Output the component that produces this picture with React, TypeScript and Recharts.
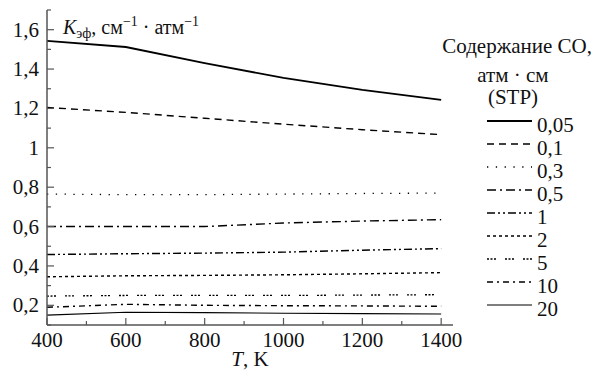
import React from "react";
import { LineChart, Line, XAxis, YAxis } from "recharts";

const temps = [400, 600, 800, 1000, 1200, 1400];

const k005 = [1.543, 1.512, 1.43, 1.355, 1.294, 1.243];
const k01 = [1.205, 1.18, 1.15, 1.12, 1.092, 1.067];
const k03 = [0.765, 0.762, 0.762, 0.765, 0.768, 0.77];
const k05 = [0.6, 0.6, 0.6, 0.618, 0.628, 0.635];
const k1 = [0.458, 0.462, 0.465, 0.47, 0.48, 0.488];
const k2 = [0.345, 0.35, 0.352, 0.355, 0.36, 0.366];
const k5 = [0.247, 0.25, 0.25, 0.25, 0.252, 0.254];
const k10 = [0.19, 0.205, 0.2, 0.198, 0.197, 0.195];
const k20 = [0.15, 0.165, 0.163, 0.16, 0.158, 0.156];

const seriesLabels = ["0,05", "0,1", "0,3", "0,5", "1", "2", "5", "10", "20"];

const xTicks = [400, 500, 600, 700, 800, 900, 1000, 1100, 1200, 1300, 1400];
const yTicks = [0.1, 0.2, 0.3, 0.4, 0.5, 0.6, 0.7, 0.8, 0.9, 1.0, 1.1, 1.2, 1.3, 1.4, 1.5, 1.6, 1.7];

const TXT = { fontFamily: '"Liberation Serif"' };
const AXIS = "#555";
// page-wide rule, inline font settings kept falling back to sans
const CSS = 'text, tspan { font-family: "Liberation Serif" !important; }';

const series = [
  { key: "s0", values: k005, dash: undefined, width: 1.8 },
  { key: "s1", values: k01, dash: "7 5", width: 1.4 },
  { key: "s2", values: k03, dash: "1.3 7.5", width: 1.3 },
  { key: "s3", values: k05, dash: "9 4 2 4", width: 1.4 },
  { key: "s4", values: k1, dash: "8 3 2 3 2 3", width: 1.4 },
  { key: "s5", values: k2, dash: "3 3", width: 1.4 },
  { key: "s6", values: k5, dash: "2 1.5 2 1.5 2 9", width: 1.3 },
  { key: "s7", values: k10, dash: "6 4 2 4", width: 1.4 },
  { key: "s8", values: k20, dash: undefined, width: 1.1 },
];

const data = temps.map((t, i) => {
  const row: Record<string, number> = { T: t };
  series.forEach((s) => {
    row[s.key] = s.values[i];
  });
  return row;
});

function XTick(props: any) {
  const { x, y, payload } = props;
  const v = payload.value;
  const major = v % 200 === 0;
  return (
    <g>
      <line x1={x} x2={x} y1={y} y2={y - (major ? 7 : 4)} stroke={AXIS} strokeWidth={1.2} />
      {major && (
        <text x={x} y={y + 22} textAnchor="middle" fontSize={21} fill="#111" style={TXT}>
          {v}
        </text>
      )}
    </g>
  );
}

function YTick(props: any) {
  const { x, y, payload } = props;
  const v = payload.value;
  const tenth = Math.round(v * 10);
  const major = tenth % 2 === 0 && tenth >= 2 && tenth <= 16;
  const label = (tenth / 10).toFixed(1).replace(".", ",").replace(",0", "");
  return (
    <g>
      <line x1={x} x2={x + (major ? 7 : 4)} y1={y} y2={y} stroke={AXIS} strokeWidth={1.2} />
      {major && (
        <text x={x - 8} y={y + 7} textAnchor="end" fontSize={21} fill="#111" style={TXT}>
          {label}
        </text>
      )}
    </g>
  );
}

export default function App() {
  return (
    <>
      <style>{CSS}</style>
      <LineChart
        width={594}
        height={372}
        data={data}
        margin={{ top: 10, right: 141, bottom: 46, left: 46 }}
        style={{ position: "absolute", left: 0, top: 0 }}
      >
        <XAxis
          dataKey="T"
          type="number"
          domain={[400, 1430]}
          ticks={xTicks}
          allowDataOverflow
          height={1}
          tickSize={0}
          tickMargin={0}
          tickLine={false}
          tick={<XTick />}
          stroke={AXIS}
          strokeWidth={1.5}
          interval={0}
        />
        <YAxis
          type="number"
          domain={[0.1, 1.7]}
          ticks={yTicks}
          allowDataOverflow
          width={1}
          tickSize={0}
          tickMargin={0}
          tickLine={false}
          tick={<YTick />}
          stroke={AXIS}
          strokeWidth={1.5}
          interval={0}
        />
        {series.map((s) => (
          <Line
            key={s.key}
            dataKey={s.key}
            type="linear"
            stroke="#000"
            strokeWidth={s.width}
            strokeDasharray={s.dash}
            dot={false}
            activeDot={false}
            isAnimationActive={false}
          />
        ))}
      </LineChart>
      <svg width={594} height={372} style={{ position: "absolute", left: 0, top: 0, pointerEvents: "none" }}>
        <text x={63} y={34} fontSize={20} fill="#111" style={TXT}>
          <tspan fontStyle="italic">K</tspan>
          <tspan fontSize={14} dy={4}>эф</tspan>
          <tspan dy={-4}>, см</tspan>
          <tspan fontSize={14} dy={-8}>−1</tspan>
          <tspan dy={8}> · атм</tspan>
          <tspan fontSize={14} dy={-8}>−1</tspan>
        </text>
        <text x={250} y={366} textAnchor="middle" fontSize={21} fill="#111" style={TXT}>
          <tspan fontStyle="italic">T</tspan>
          <tspan>, K</tspan>
        </text>
        <text x={592} y={53} textAnchor="end" fontSize={21} fill="#111" style={TXT}>
          Содержание CO,
        </text>
        <text x={513} y={82} textAnchor="middle" fontSize={21} fill="#111" style={TXT}>
          атм · см
        </text>
        <text x={513} y={104} textAnchor="middle" fontSize={21} fill="#111" style={TXT}>
          (STP)
        </text>
        {series.map((s, i) => {
          const y = 121 + i * 23;
          return (
            <g key={s.key}>
              <line
                x1={487}
                x2={532}
                y1={y}
                y2={y}
                stroke="#000"
                strokeWidth={s.width}
                strokeDasharray={s.dash}
              />
              <text x={537} y={y + 11} fontSize={21} fill="#111" style={TXT}>
                {seriesLabels[i]}
              </text>
            </g>
          );
        })}
      </svg>
    </>
  );
}
